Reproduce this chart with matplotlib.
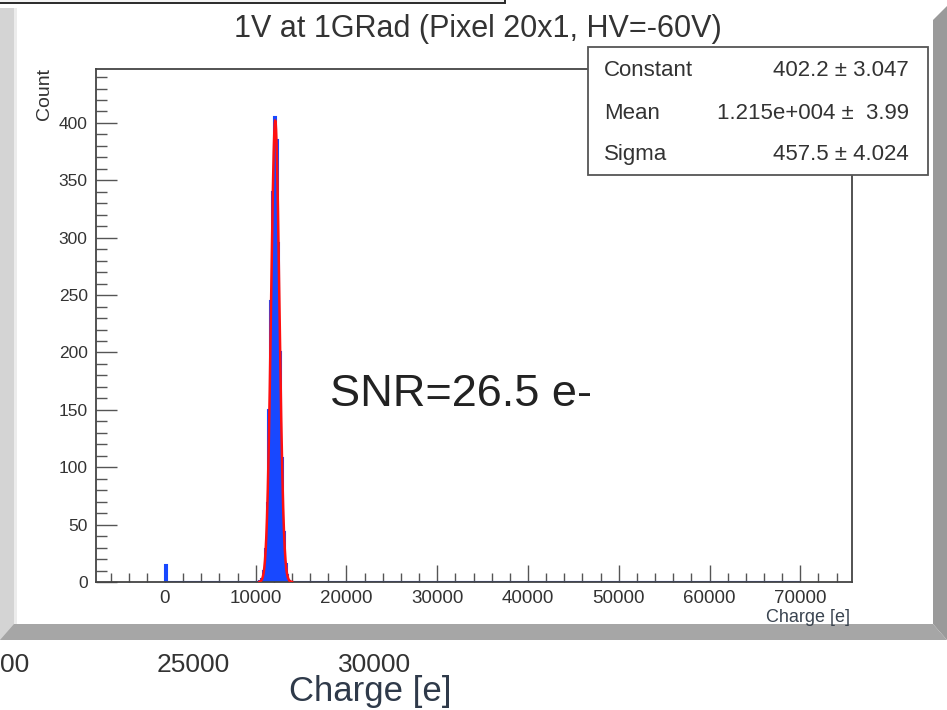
import numpy as np
import matplotlib
matplotlib.use('Agg')
import matplotlib.pyplot as plt
from matplotlib.patches import Rectangle, Polygon
from matplotlib.ticker import MultipleLocator

# histogram bins (lower edges, width 200 e) that hold entries
bin_width = 200
hist_range = (0, 70000)
bin_lo = [0, 10400, 10600, 10800, 11000, 11200, 11400, 11600, 11800,
          12000, 12200, 12400, 12600, 12800, 13000, 13200, 13400, 13600]
counts = [15, 1, 3, 10, 29, 69, 150, 245, 340,
          405, 385, 295, 200, 108, 44, 16, 6, 1]

# gaussian fit result (stat box)
fit_const, fit_const_err = 402.2, 3.047
fit_mean, fit_mean_err = 1.215e4, 3.99
fit_sigma, fit_sigma_err = 457.5, 4.024
fit_range = (10400, 14000)

title = '1V at 1GRad (Pixel 20x1, HV=-60V)'
snr_text = 'SNR=26.5 e-'

W, H = 947, 710


def fx(px):
    return px / W


def fy(py):
    return 1 - py / H


fig = plt.figure(figsize=(W / 100, H / 100), dpi=100)
fig.patch.set_facecolor('white')
plt.rcParams['font.family'] = ['Liberation Sans', 'DejaVu Sans']

# canvas bevels from the screenshot
fig.add_artist(Rectangle((0, fy(640)), fx(14), fy(8) - fy(640), transform=fig.transFigure,
                         facecolor='#d4d4d4', edgecolor='none', zorder=0))
fig.add_artist(Rectangle((fx(14), fy(640)), fx(3), fy(8) - fy(640), transform=fig.transFigure,
                         facecolor='#ececec', edgecolor='none', zorder=0))
fig.add_artist(Polygon([(fx(933), fy(20)), (fx(947), fy(6)), (fx(947), fy(640)), (fx(933), fy(624))],
                       closed=True, transform=fig.transFigure,
                       facecolor='#9a9a9a', edgecolor='none', zorder=0))
fig.add_artist(Polygon([(fx(0), fy(640)), (fx(14), fy(624)), (fx(933), fy(624)), (fx(947), fy(640))],
                       closed=True, transform=fig.transFigure,
                       facecolor='#a6a6a6', edgecolor='none', zorder=0))
fig.add_artist(Rectangle((-0.01, fy(3)), fx(505) + 0.01, fy(0) - fy(3) + 0.01, transform=fig.transFigure,
                         facecolor='#f4f4f4', edgecolor='#2a2a2a', linewidth=1.4, zorder=0))

ax = fig.add_axes([fx(96), fy(582), fx(852) - fx(96), fy(69) - fy(582)])
ax.set_facecolor('white')

edges = np.arange(hist_range[0], hist_range[1] + bin_width, bin_width)
full = np.zeros(len(edges) - 1)
for lo, c in zip(bin_lo, counts):
    full[int((lo - hist_range[0]) // bin_width)] = c

blue = '#1848ff'
ax.stairs(full, edges, fill=True, color=blue, zorder=2)
ax.stairs(full, edges, color=blue, lw=1.5, zorder=2)
ax.plot(hist_range, [0, 0], color=blue, lw=1.2, zorder=2)

xf = np.linspace(fit_range[0], fit_range[1], 400)
yf = fit_const * np.exp(-0.5 * ((xf - fit_mean) / fit_sigma) ** 2)
ax.plot(xf, yf, color='#ff1010', lw=1.8, zorder=3)

ax.set_xlim(-7600, 75700)
ax.set_ylim(0, 447)
ax.xaxis.set_major_locator(MultipleLocator(10000))
ax.xaxis.set_minor_locator(MultipleLocator(2000))
ax.yaxis.set_major_locator(MultipleLocator(50))
ax.yaxis.set_minor_locator(MultipleLocator(10))
ax.set_xticks(np.arange(0, 70001, 10000))
ax.set_xticklabels([str(v) for v in range(0, 70001, 10000)])
ax.set_yticks(np.arange(0, 401, 50))
ax.set_yticklabels([str(v) for v in range(0, 401, 50)])

ax.tick_params(axis='y', which='major', direction='in', length=15, width=1, colors='#555555',
               labelcolor='#333333', labelsize=12.5, pad=6)
ax.tick_params(axis='y', which='minor', direction='in', length=8, width=1, colors='#555555')
ax.tick_params(axis='x', which='major', direction='in', length=12, width=1, colors='#555555',
               labelcolor='#333333', labelsize=13.5, pad=6)
ax.tick_params(axis='x', which='minor', direction='in', length=6.5, width=1, colors='#555555')
for s in ax.spines.values():
    s.set_color('#444444')
    s.set_linewidth(1.3)

fig.text(fx(850), fy(622), 'Charge [e]', ha='right', va='baseline', fontsize=13, color='#3a4450')
fig.text(fx(44), fy(68), 'Count', ha='center', va='top', rotation=90, fontsize=14, color='#333333')

fig.text(fx(478), fy(37), title, ha='center', va='baseline', fontsize=22, color='#333333')
fig.text(fx(330), fy(406), snr_text, ha='left', va='baseline', fontsize=32.5, color='#222222')

# stat box
fig.add_artist(Rectangle((fx(588), fy(175)), fx(928) - fx(588), fy(47) - fy(175),
                         transform=fig.transFigure, facecolor='white', edgecolor='#555555',
                         linewidth=1.3, zorder=5))
rows = [('Constant', '%.1f' % fit_const + ' \u00b1 ' + '%.3f' % fit_const_err, 76),
        ('Mean', '1.215e+004 \u00b1  ' + '%.2f' % fit_mean_err, 119),
        ('Sigma', '%.1f' % fit_sigma + ' \u00b1 ' + '%.3f' % fit_sigma_err, 160)]
for name, val, py in rows:
    fig.text(fx(604), fy(py), name, ha='left', va='baseline', fontsize=16, color='#333333', zorder=6)
    fig.text(fx(909), fy(py), val, ha='right', va='baseline', fontsize=16, color='#333333', zorder=6)

# leftover labels of the plot underneath
for lab, cx in [('00', 15), ('25000', 193), ('30000', 375)]:
    fig.text(fx(cx), fy(672), lab, ha='center', va='baseline', fontsize=19, color='#333333')
fig.text(fx(370), fy(701), 'Charge [e]', ha='center', va='baseline', fontsize=25, color='#2f3a4a')

fig.savefig('out.png', dpi=100)
